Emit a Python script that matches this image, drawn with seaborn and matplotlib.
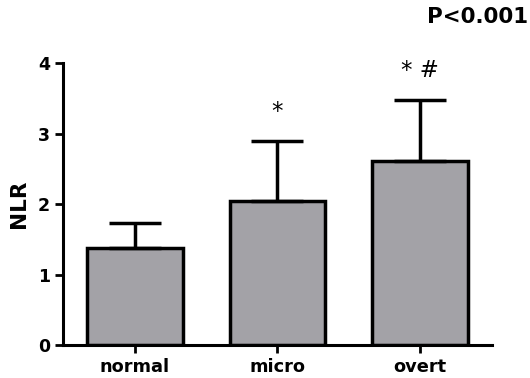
import matplotlib
matplotlib.use("Agg")
import matplotlib.pyplot as plt
import seaborn as sns
import pandas as pd

# === data ===
groups = ["normal", "micro", "overt"]
nlr_mean = [1.38, 2.05, 2.61]
nlr_sd = [0.35, 0.85, 0.87]
marks = ["", "*", "* #"]
y_ticks = [0, 1, 2, 3, 4]

df = pd.DataFrame({"group": groups, "NLR": nlr_mean})

sns.set_style("ticks")
plt.rcParams["font.family"] = ["DejaVu Sans"]
plt.rcParams["text.color"] = "black"
plt.rcParams["axes.labelcolor"] = "black"
plt.rcParams["xtick.color"] = "black"
plt.rcParams["ytick.color"] = "black"

fig = plt.figure(figsize=(5.3, 3.78), dpi=100)
ax = fig.add_axes([0.119, 0.087, 0.809, 0.746])

sns.barplot(data=df, x="group", y="NLR", order=groups, color="#a3a2a7",
            edgecolor="black", linewidth=2.5, width=0.67, saturation=1,
            errorbar=None, ax=ax)

# upward-only SD bars
ax.errorbar(range(len(groups)), nlr_mean, yerr=[[0] * len(groups), nlr_sd],
            fmt="none", ecolor="black", elinewidth=2.5, capsize=18.4,
            capthick=2.5, zorder=1)

for i, (m, s, t) in enumerate(zip(nlr_mean, nlr_sd, marks)):
    if t:
        ax.text(i, m + s + 0.25, t, ha="center", va="bottom", fontsize=16.5,
                color="black")

ax.set_xlim(-0.505, 2.505)
ax.set_ylim(0, 4)
ax.set_yticks(y_ticks)
ax.set_xlabel("")
ax.set_ylabel("NLR", fontsize=15.5, fontweight="bold", labelpad=6)
for lab in ax.get_xticklabels() + ax.get_yticklabels():
    lab.set_fontweight("bold")
ax.tick_params(axis="both", labelsize=12.5, width=2, length=6,
               color="black", labelcolor="black")
ax.tick_params(axis="x", labelsize=12.8, pad=3)
sns.despine(ax=ax)
for sp in ["left", "bottom"]:
    ax.spines[sp].set_linewidth(2.2)
    ax.spines[sp].set_color("black")

fig.text(0.997, 0.955, "P<0.001", ha="right", va="center", fontsize=15.4,
         fontweight="bold", color="black")

fig.savefig("out.png", dpi=100)
